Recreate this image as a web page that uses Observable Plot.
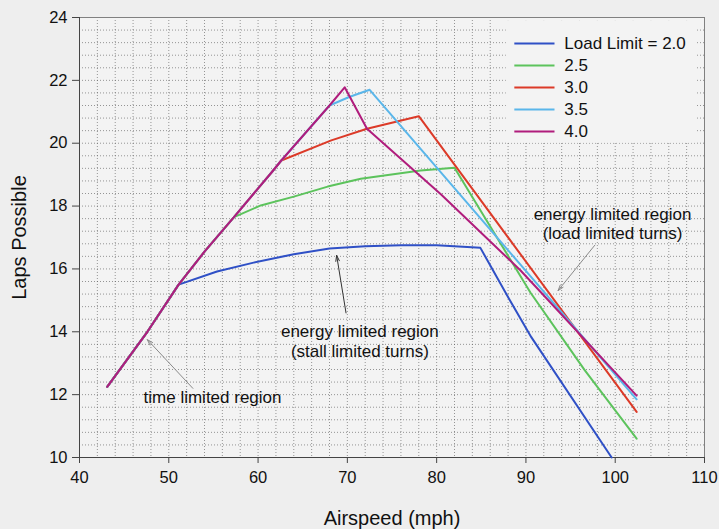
<!DOCTYPE html>
<html>
<head>
<meta charset="utf-8">
<script src="https://cdn.jsdelivr.net/npm/d3@7"></script>
<script src="https://cdn.jsdelivr.net/npm/@observablehq/plot@0.6"></script>
<style>
  html, body { margin: 0; padding: 0; background: #eeeeee; }
  #chart { width: 719px; height: 529px; }
</style>
</head>
<body>
<div id="chart"></div>
<script>
// ---- data ----
const seriesNames = ["2.0", "2.5", "3.0", "3.5", "4.0"];
const legendLabels = ["Load Limit = 2.0", "2.5", "3.0", "3.5", "4.0"];
const seriesColors = ["#2f50c6", "#5cc35c", "#dc3a28", "#5ab6ea", "#b01c7c"];

// shared time-limited curve
const timeSpeed = [43.1, 47.6, 51.1, 54.0, 57.3, 61.6, 62.6, 68.0, 69.7];
const timeLaps  = [12.25, 14.0, 15.5, 16.55, 17.65, 19.1, 19.45, 21.2, 21.78];

// energy-limited portions of each series (start at its branch point)
const speed20 = [51.1, 55.4, 59.5, 64.0, 68.0, 72.0, 76.0, 80.0, 84.9, 88.2, 90.6, 99.6];
const laps20  = [15.5, 15.92, 16.2, 16.47, 16.65, 16.72, 16.75, 16.75, 16.67, 15.0, 13.83, 10.0];
const speed25 = [57.3, 60.3, 64.0, 67.8, 71.5, 78.2, 82.0, 90.5, 96.6, 102.4];
const laps25  = [17.65, 18.02, 18.3, 18.62, 18.87, 19.13, 19.22, 15.25, 12.77, 10.6];
const speed30 = [62.6, 68.2, 72.2, 78.0, 102.4];
const laps30  = [19.45, 20.09, 20.46, 20.86, 11.45];
const speed35 = [68.0, 70.2, 72.5, 102.4];
const laps35  = [21.2, 21.47, 21.7, 11.85];
const speed40 = [69.7, 72.2, 80.5, 89.4, 91.7, 102.4];
const laps40  = [21.78, 20.46, 18.37, 15.95, 15.25, 11.97];

const xTicks = [40, 50, 60, 70, 80, 90, 100, 110];
const yTicks = [10, 12, 14, 16, 18, 20, 22, 24];
const xGrid = d3.range(40, 110.01, 2);
const yGrid = d3.range(10, 24.01, 0.4);

// annotations (data units)
const noteTexts = ["time limited region", "energy limited region\n(stall limited turns)", "energy limited region\n(load limited turns)"];
const noteX = [54.9, 71.4, 99.7];
const noteY = [11.92, 13.71, 17.46];
const arrowX1 = [52.7, 69.85, 97.7];
const arrowY1 = [12.2, 14.6, 16.75];
const arrowX2 = [47.6, 68.8, 93.6];
const arrowY2 = [13.75, 16.43, 15.31];
const arrowColors = ["#8a8a8a", "#333333", "#8a8a8a"];

// ---- build rows ----
const energy = [[speed20, laps20], [speed25, laps25], [speed30, laps30], [speed35, laps35], [speed40, laps40]];
const rows = [];
energy.forEach(([sp, lp], i) => {
  const start = sp[0];
  timeSpeed.forEach((s, j) => { if (s < start) rows.push({series: seriesNames[i], speed: s, laps: timeLaps[j]}); });
  sp.forEach((s, j) => rows.push({series: seriesNames[i], speed: s, laps: lp[j]}));
});
const notes = noteTexts.map((t, i) => ({text: t, x: noteX[i], y: noteY[i]}));
const arrows = arrowX1.map((v, i) => ({x1: v, y1: arrowY1[i], x2: arrowX2[i], y2: arrowY2[i], c: arrowColors[i]}));

// legend layout (in data units, inside the plot area)
const legendRowY = [23.17, 22.47, 21.77, 21.07, 20.37];
const legendRows = seriesNames.map((s, i) => ({series: s, label: legendLabels[i], y: legendRowY[i]}));
const legendBox = [{x1: 87.8, x2: 109.0, y1: 20.0, y2: 23.9}];

const plotBg = "#f3f3f3";
const chart = Plot.plot({
  width: 719,
  height: 529,
  marginLeft: 79,
  marginRight: 15,
  marginTop: 17,
  marginBottom: 72,
  style: {background: "transparent", fontFamily: "'Liberation Sans', Arial, sans-serif", fontSize: "16px", color: "#111"},
  x: {domain: [40, 110]},
  y: {domain: [10, 24]},
  color: {domain: seriesNames, range: seriesColors},
  marks: [
    Plot.frame({fill: plotBg}),
    Plot.gridX(xGrid, {stroke: "#555", strokeOpacity: 0.6, strokeDasharray: "1,2"}),
    Plot.gridY(yGrid, {stroke: "#555", strokeOpacity: 0.6, strokeDasharray: "1,2"}),
    Plot.rect(legendBox, {x1: "x1", x2: "x2", y1: "y1", y2: "y2", fill: plotBg}),
    Plot.frame({stroke: "#808080"}),
    Plot.ruleY([10], {stroke: "#444"}),
    Plot.ruleX([40], {stroke: "#444"}),
    Plot.axisX(xTicks, {tickSize: 6, tickPadding: 8, fontSize: 16.5, label: null, stroke: "#444"}),
    Plot.axisY(yTicks, {tickSize: 7, tickPadding: 5, fontSize: 16.5, label: null, stroke: "#444"}),
    Plot.line(rows, {x: "speed", y: "laps", z: "series", stroke: "series", strokeWidth: 2, curve: "linear"}),
    Plot.arrow(arrows, {x1: "x1", y1: "y1", x2: "x2", y2: "y2", stroke: d => d.c, strokeWidth: 1, headLength: 9, headAngle: 35}),
    Plot.text(notes, {x: "x", y: "y", text: "text", fontSize: 17, lineHeight: 1.12, fill: "#111"}),
    Plot.link(legendRows, {x1: () => 88.7, x2: () => 93.2, y1: "y", y2: "y", stroke: "series", strokeWidth: 2}),
    Plot.text(legendRows, {x: () => 94.3, y: "y", text: "label", textAnchor: "start", fontSize: 17, fill: "#111"}),
    Plot.text(["Airspeed (mph)"], {frameAnchor: "bottom", lineAnchor: "middle", dy: 61, fontSize: 20, fill: "#111"}),
    Plot.text(["Laps Possible"], {frameAnchor: "left", textAnchor: "middle", lineAnchor: "middle", dx: -60, rotate: -90, fontSize: 20, fill: "#111"})
  ]
});
document.getElementById("chart").appendChild(chart);
</script>
</body>
</html>
